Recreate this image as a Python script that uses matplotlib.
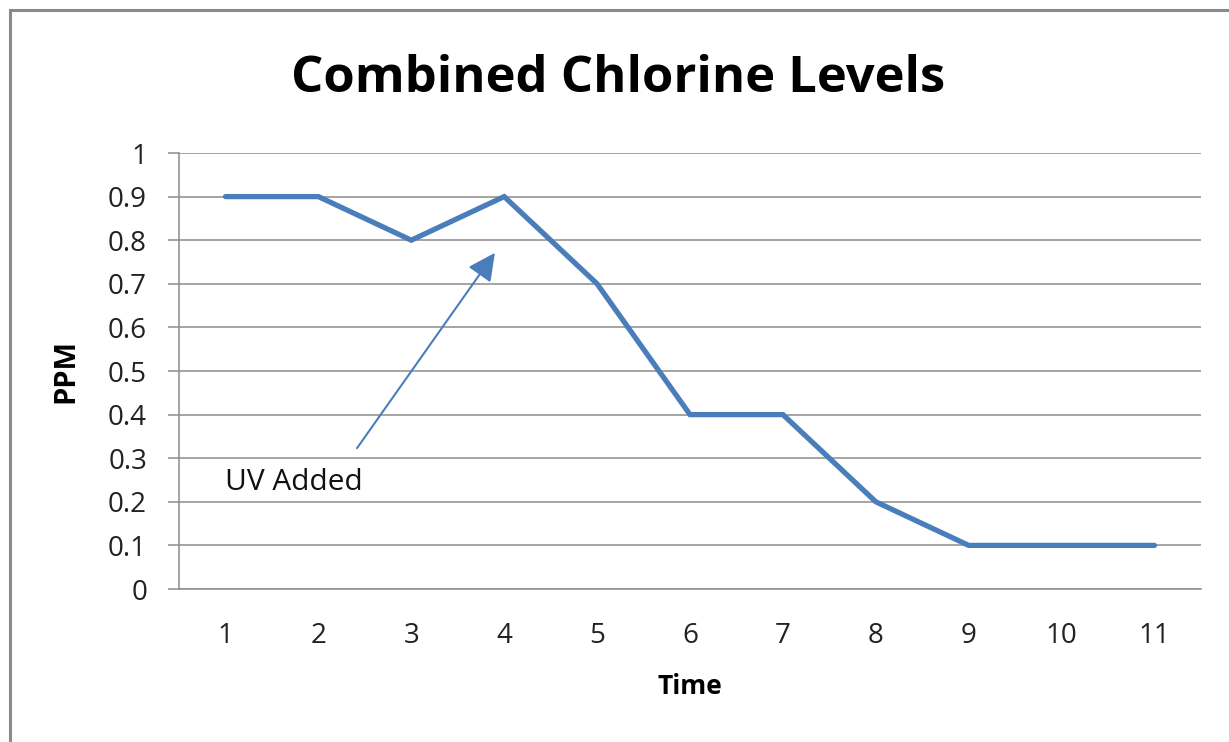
import matplotlib.pyplot as plt
from matplotlib.patches import Rectangle

# data
times = list(range(1, 12))
ppm = [0.9, 0.9, 0.8, 0.9, 0.7, 0.4, 0.4, 0.2, 0.1, 0.1, 0.1]
y_ticks = [0, 0.1, 0.2, 0.3, 0.4, 0.5, 0.6, 0.7, 0.8, 0.9, 1]
y_labels = ["0", "0.1", "0.2", "0.3", "0.4", "0.5", "0.6", "0.7", "0.8", "0.9", "1"]

plt.rcParams["font.family"] = ["Open Sans", "DejaVu Sans"]

line_color = "#4a7ebb"
grid_color = "#8c8c8c"

fig = plt.figure(figsize=(12.29, 7.42), dpi=100)
ax = fig.add_axes([179 / 1229, 1 - 589 / 742, 1022 / 1229, 436 / 742])

# outer chart frame (only left and top edges fall inside the image)
fig.patches.append(Rectangle((10 / 1229, -0.1), 1.2, (742 - 10) / 742 + 0.1,
                             transform=fig.transFigure, fill=False,
                             edgecolor="#8a8a8a", lw=2.2))

ax.plot(times, ppm, color=line_color, lw=3.8, solid_capstyle="round",
        solid_joinstyle="miter", zorder=3)

ax.set_xlim(0.5, 11.5)
ax.set_ylim(0, 1)
ax.set_xticks(times)
ax.set_yticks(y_ticks)
ax.set_yticklabels(y_labels)
ax.yaxis.grid(True, color=grid_color, lw=1.1)
ax.set_axisbelow(True)

for side in ["top", "right"]:
    ax.spines[side].set_visible(False)
for side in ["left", "bottom"]:
    ax.spines[side].set_color(grid_color)
    ax.spines[side].set_linewidth(1.1)

ax.tick_params(axis="y", length=8, width=1.1, color=grid_color, pad=15,
               labelsize=20, labelcolor="#222222")
ax.tick_params(axis="x", length=0, pad=24, labelsize=20, labelcolor="#222222")

ax.set_title("Combined Chlorine Levels", fontsize=36.5, fontweight="bold",
             pad=44, x=0.43)
ax.set_xlabel("Time", fontsize=19, fontweight="bold", labelpad=16)
ax.set_ylabel("PPM", fontsize=21, fontweight="bold", labelpad=20)

ax.annotate("", xy=(3.9, 0.771), xytext=(2.416, 0.323),
            arrowprops=dict(arrowstyle="-|>", color=line_color, lw=1.5,
                            mutation_scale=42, shrinkA=0, shrinkB=0))
ax.text(1.0, 0.245, "UV Added", fontsize=21.5, ha="left", va="center",
        color="#111111")

fig.savefig("out.png", dpi=100)
